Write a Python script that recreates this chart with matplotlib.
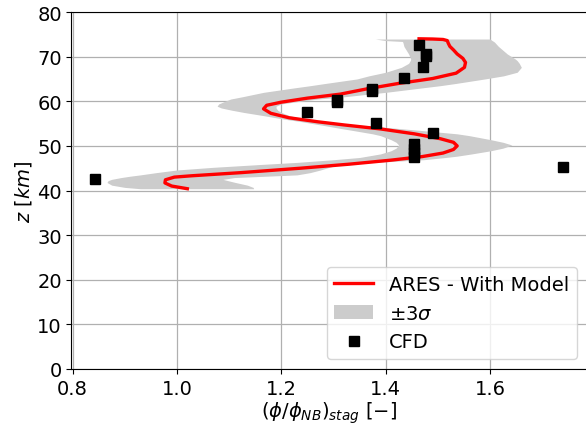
import numpy as np
import matplotlib
matplotlib.use("Agg")
import matplotlib.pyplot as plt

# Red curve (ARES - With Model): x = phi/phi_NB, z in km
curve_x = [1.020, 0.990, 0.977, 0.978, 0.995, 1.028, 1.122, 1.237, 1.330, 1.410,
           1.470, 1.510, 1.530, 1.537, 1.530, 1.505, 1.455, 1.390, 1.320, 1.270,
           1.215, 1.180, 1.166, 1.172, 1.200, 1.250, 1.313, 1.365, 1.425, 1.490,
           1.535, 1.551, 1.553, 1.548, 1.537, 1.530, 1.523, 1.520, 1.518, 1.510,
           1.490, 1.464]
curve_z = [40.4, 41.0, 41.7, 42.4, 43.0, 43.3, 44.0, 45.0, 45.9, 46.8,
           47.6, 48.4, 49.2, 50.0, 50.8, 51.6, 52.7, 53.8, 54.7, 55.4,
           56.3, 57.3, 58.3, 59.1, 59.8, 60.7, 61.6, 62.8, 64.0, 65.1,
           66.3, 67.6, 68.7, 69.6, 70.6, 71.5, 72.3, 73.0, 73.6, 73.85,
           73.95, 74.0]

# +-3 sigma band: left / right boundaries vs z
band_z = [40.4, 40.7, 41.2, 41.8, 42.2, 42.5, 42.9, 43.2, 43.5, 44.0,
          44.6, 45.2, 45.9, 46.3, 46.9, 47.4, 47.7, 48.2, 48.9, 49.5,
          50.2, 50.8, 51.4, 52.3, 52.7, 53.4, 53.9, 54.4, 54.9, 55.5,
          56.0, 56.8, 57.5, 58.0, 58.5, 58.9, 59.4, 60.0, 60.5, 61.0,
          62.0, 63.0, 63.5, 64.0, 65.0, 65.7, 66.5, 67.6, 68.5, 69.1,
          69.5, 70.6, 72.1, 72.3, 73.2, 73.4, 73.6, 73.95]
band_lo = [0.930, 0.900, 0.875, 0.866, 0.868, 0.875, 0.893, 0.910, 0.930, 0.960,
           1.000, 1.070, 1.170, 1.230, 1.300, 1.350, 1.365, 1.390, 1.410, 1.420,
           1.425, 1.420, 1.410, 1.390, 1.375, 1.340, 1.314, 1.290, 1.265, 1.235,
           1.205, 1.165, 1.128, 1.105, 1.085, 1.077, 1.080, 1.092, 1.103, 1.125,
           1.166, 1.225, 1.256, 1.285, 1.345, 1.368, 1.400, 1.430, 1.444, 1.447,
           1.448, 1.444, 1.436, 1.435, 1.433, 1.432, 1.400, 1.380]
band_hi = [1.147, 1.146, 1.135, 1.112, 1.098, 1.088, 1.110, 1.170, 1.230, 1.255,
           1.275, 1.292, 1.314, 1.377, 1.473, 1.515, 1.537, 1.565, 1.601, 1.625,
           1.642, 1.625, 1.601, 1.560, 1.537, 1.473, 1.425, 1.377, 1.320, 1.280,
           1.245, 1.215, 1.200, 1.193, 1.190, 1.190, 1.200, 1.235, 1.270, 1.320,
           1.400, 1.470, 1.505, 1.535, 1.590, 1.626, 1.652, 1.660, 1.656, 1.652,
           1.648, 1.633, 1.618, 1.616, 1.609, 1.607, 1.604, 1.600]

# CFD data points
cfd_x = [0.843, 1.739, 1.455, 1.455, 1.455, 1.455, 1.491, 1.382, 1.250, 1.307,
         1.307, 1.373, 1.373, 1.436, 1.471, 1.478, 1.478, 1.464]
cfd_z = [42.6, 45.2, 47.45, 48.4, 49.4, 50.35, 52.8, 55.2, 57.7, 59.9,
         60.35, 62.4, 62.85, 65.3, 67.6, 70.1, 70.5, 72.7]

xticks = [0.8, 1.0, 1.2, 1.4, 1.6]
yticks = [0, 10, 20, 30, 40, 50, 60, 70, 80]

plt.rcParams['font.family'] = ['DejaVu Sans']
plt.rcParams['mathtext.fontset'] = 'dejavusans'
fs = 14

fig = plt.figure(figsize=(5.86, 4.27), dpi=100)
ax = fig.add_axes([0.122, 0.1335, 0.879, 0.836])

ax.fill_betweenx(band_z, band_lo, band_hi, color='0.8', linewidth=0, label=r'$\pm3\sigma$', zorder=2)
ax.plot(curve_x, curve_z, color='red', lw=2.4, label='ARES - With Model', zorder=3)
ax.plot(cfd_x, cfd_z, 's', color='black', ms=6.5, label='CFD', zorder=4)

ax.set_xlim(0.798, 1.785)
ax.set_ylim(0, 80)
ax.set_xticks(xticks)
ax.set_yticks(yticks)
ax.tick_params(labelsize=fs)
ax.grid(True, color='#b0b0b0', lw=0.9)
ax.set_axisbelow(True)
ax.set_xlabel(r'$(\phi/\phi_{NB})_{stag}\ [-]$', fontsize=fs, labelpad=1)
ax.set_ylabel(r'$z\ [km]$', fontsize=fs, labelpad=2)

handles, labels = ax.get_legend_handles_labels()
order = [1, 0, 2]
ax.legend([handles[i] for i in order], [labels[i] for i in order],
          loc='lower right', fontsize=fs)

fig.savefig('out.png', dpi=100)
